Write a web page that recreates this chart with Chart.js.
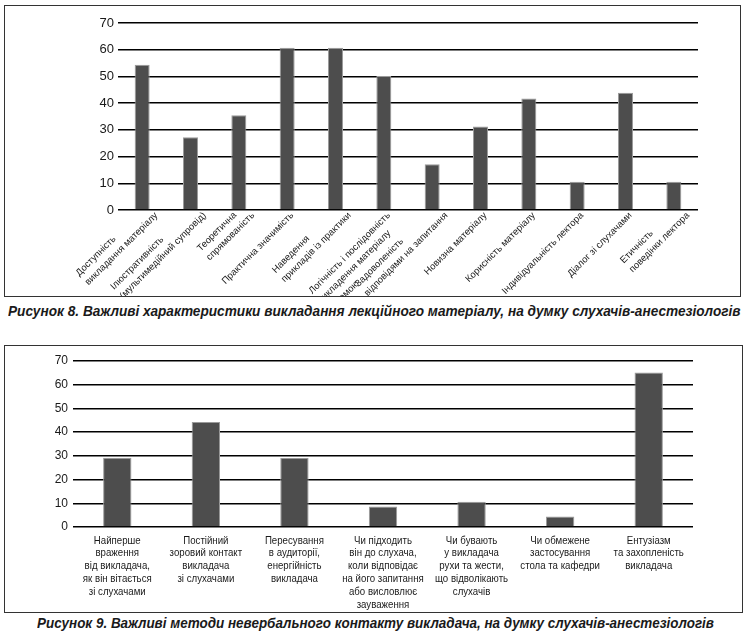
<!DOCTYPE html>
<html>
<head>
<meta charset="utf-8">
<script src="https://cdn.jsdelivr.net/npm/chart.js@4.4.1/dist/chart.umd.min.js"></script>
<style>
  body { margin: 0; background: #fff; width: 749px; height: 640px; position: relative; overflow: hidden; font-family: "Liberation Sans", Arial, sans-serif; }
  .box { position: absolute; border: 1px solid #333; background: #fff; }
  .box canvas { display: block; }
  .caption { position: absolute; white-space: nowrap; font: bold italic 14px "Liberation Sans", Arial, sans-serif; color: #1a1a1a; transform-origin: 0 0; }
</style>
</head>
<body>
<div class="box" id="box1" style="left:4px; top:5px; width:735px; height:290px;">
  <canvas id="chart1" width="735" height="290"></canvas>
</div>
<div class="caption" id="cap1" data-left="8" data-width="733" style="top:303px;">Рисунок 8. Важливі характеристики викладання лекційного матеріалу, на думку слухачів-анестезіологів</div>

<div class="box" id="box2" style="left:4px; top:345px; width:737px; height:266px;">
  <canvas id="chart2" width="737" height="266"></canvas>
</div>
<div class="caption" id="cap2" data-left="37" data-width="677" style="top:615px;">Рисунок 9. Важливі методи невербального контакту викладача, на думку слухачів-анестезіологів</div>

<script>
// Figure 8 data
const traitLabels = [
    ["Доступність", "викладання матеріалу"],
    ["Ілюстративність", "(мультимедійний супровід)"],
    ["Теоретична", "спрямованість"],
    ["Практична значимість"],
    ["Наведення", "прикладів із практики"],
    ["Логічність і послідовність", "викладення матеріалу", "за темою"],
    ["Задоволеність", "відповідями на запитання"],
    ["Новизна матеріалу"],
    ["Корисність матеріалу"],
    ["Індивідуальність лектора"],
    ["Діалог зі слухачами"],
    ["Етичність", "поведінки лектора"]
];
const traitValues = [54.4, 27.2, 35.5, 60.7, 60.7, 50.2, 17.1, 31.3, 41.7, 10.6, 43.9, 10.6];

// Figure 9 data
const methodLabels = [
    ["Найперше", "враження", "від викладача,", "як він вітається", "зі слухачами"],
    ["Постійний", "зоровий контакт", "викладача", "зі слухачами"],
    ["Пересування", "в аудиторії,", "енергійність", "викладача"],
    ["Чи підходить", "він до слухача,", "коли відповідає", "на його запитання", "або висловлює", "зауваження"],
    ["Чи бувають", "у викладача", "рухи та жести,", "що відволікають", "слухачів"],
    ["Чи обмежене", "застосування", "стола та кафедри"],
    ["Ентузіазм", "та захопленість", "викладача"]
];
const methodValues = [29.2, 44.3, 29.1, 8.6, 10.6, 4.4, 65.2];

const yTicks = [0, 10, 20, 30, 40, 50, 60, 70];

const textColor = '#1a1a1a';
const barFill = '#4d4d4d';
const barEdge = '#9a9a9a';

// category labels drawn by hand, the way Excel lays them out
const categoryLabels = {
    id: 'categoryLabels',
    afterDraw(chart, args, opts) {
        const ctx = chart.ctx;
        const xs = chart.scales.x;
        const lh = opts.lineHeight;
        ctx.save();
        ctx.fillStyle = textColor;
        ctx.font = opts.font;
        ctx.textBaseline = 'middle';
        chart.data.labels.forEach((lines, i) => {
            const x = xs.getPixelForValue(i);
            ctx.save();
            if (opts.rotate) {
                // left-aligned lines at 45 degrees; the longest line ends just under the axis
                const widths = lines.map(t => ctx.measureText(t).width);
                const w = Math.max(...widths);
                const k = widths.indexOf(w);
                ctx.translate(x + opts.dx + k * lh / Math.SQRT2, xs.top + opts.gap);
                ctx.rotate(-Math.PI / 4);
                ctx.textAlign = 'left';
                lines.forEach((t, j) => ctx.fillText(t, -w, (j - k) * lh));
            } else {
                ctx.translate(x, xs.top + opts.gap);
                ctx.scale(opts.squeeze || 1, 1);
                ctx.textAlign = 'center';
                lines.forEach((t, j) => ctx.fillText(t, 0, (j + 0.5) * lh));
            }
            ctx.restore();
        });
        ctx.restore();
    }
};

function makeChart(id, labels, values, cfg) {
    const ctx = document.getElementById(id).getContext('2d');
    return new Chart(ctx, {
        type: 'bar',
        data: {
            labels: labels,
            datasets: [{
                data: values,
                backgroundColor: barFill,
                borderColor: barEdge,
                borderWidth: 1,
                categoryPercentage: 1,
                barPercentage: cfg.barPct
            }]
        },
        plugins: [categoryLabels],
        options: {
            responsive: false,
            animation: false,
            maintainAspectRatio: false,
            layout: { padding: { left: 0, right: cfg.padRight, top: cfg.padTop, bottom: 0 } },
            plugins: {
                legend: { display: false },
                tooltip: { enabled: false },
                categoryLabels: cfg.labels
            },
            scales: {
                x: {
                    grid: { display: false },
                    border: { display: false },
                    ticks: { display: false },
                    afterFit: (scale) => { scale.height = cfg.xHeight; }
                },
                y: {
                    min: 0,
                    max: 70,
                    afterBuildTicks: (scale) => { scale.ticks = yTicks.map(v => ({ value: v })); },
                    afterFit: (scale) => { scale.width = cfg.yWidth; },
                    border: { display: false },
                    grid: { color: '#000', lineWidth: 1.5, drawTicks: false },
                    ticks: {
                        color: textColor,
                        font: cfg.yFont,
                        padding: cfg.yPad
                    }
                }
            }
        }
    });
}

makeChart('chart1', traitLabels, traitValues, {
    barPct: 0.31,
    padRight: 42,
    padTop: 17,
    xHeight: 86,
    yWidth: 113,
    yFont: { family: 'Liberation Sans', size: 13 },
    yPad: 4,
    labels: { font: '9.5px "Liberation Sans", Arial, sans-serif', gap: 4, dx: 5, lineHeight: 13, rotate: true }
});

makeChart('chart2', methodLabels, methodValues, {
    barPct: 0.32,
    padRight: 49,
    padTop: 15,
    xHeight: 85,
    yWidth: 68,
    yFont: { family: 'Liberation Sans', size: 12 },
    yPad: 5,
    labels: { font: '11.5px "Liberation Sans", Arial, sans-serif', gap: 7, lineHeight: 12.8, rotate: false, squeeze: 0.84 }
});

// squeeze the captions to the width they take in the figure
for (const cap of document.querySelectorAll('.caption')) {
    const w = cap.offsetWidth;
    const target = +cap.dataset.width;
    cap.style.left = cap.dataset.left + 'px';
    cap.style.transform = 'scaleX(' + (target / w) + ')';
}
</script>
</body>
</html>
